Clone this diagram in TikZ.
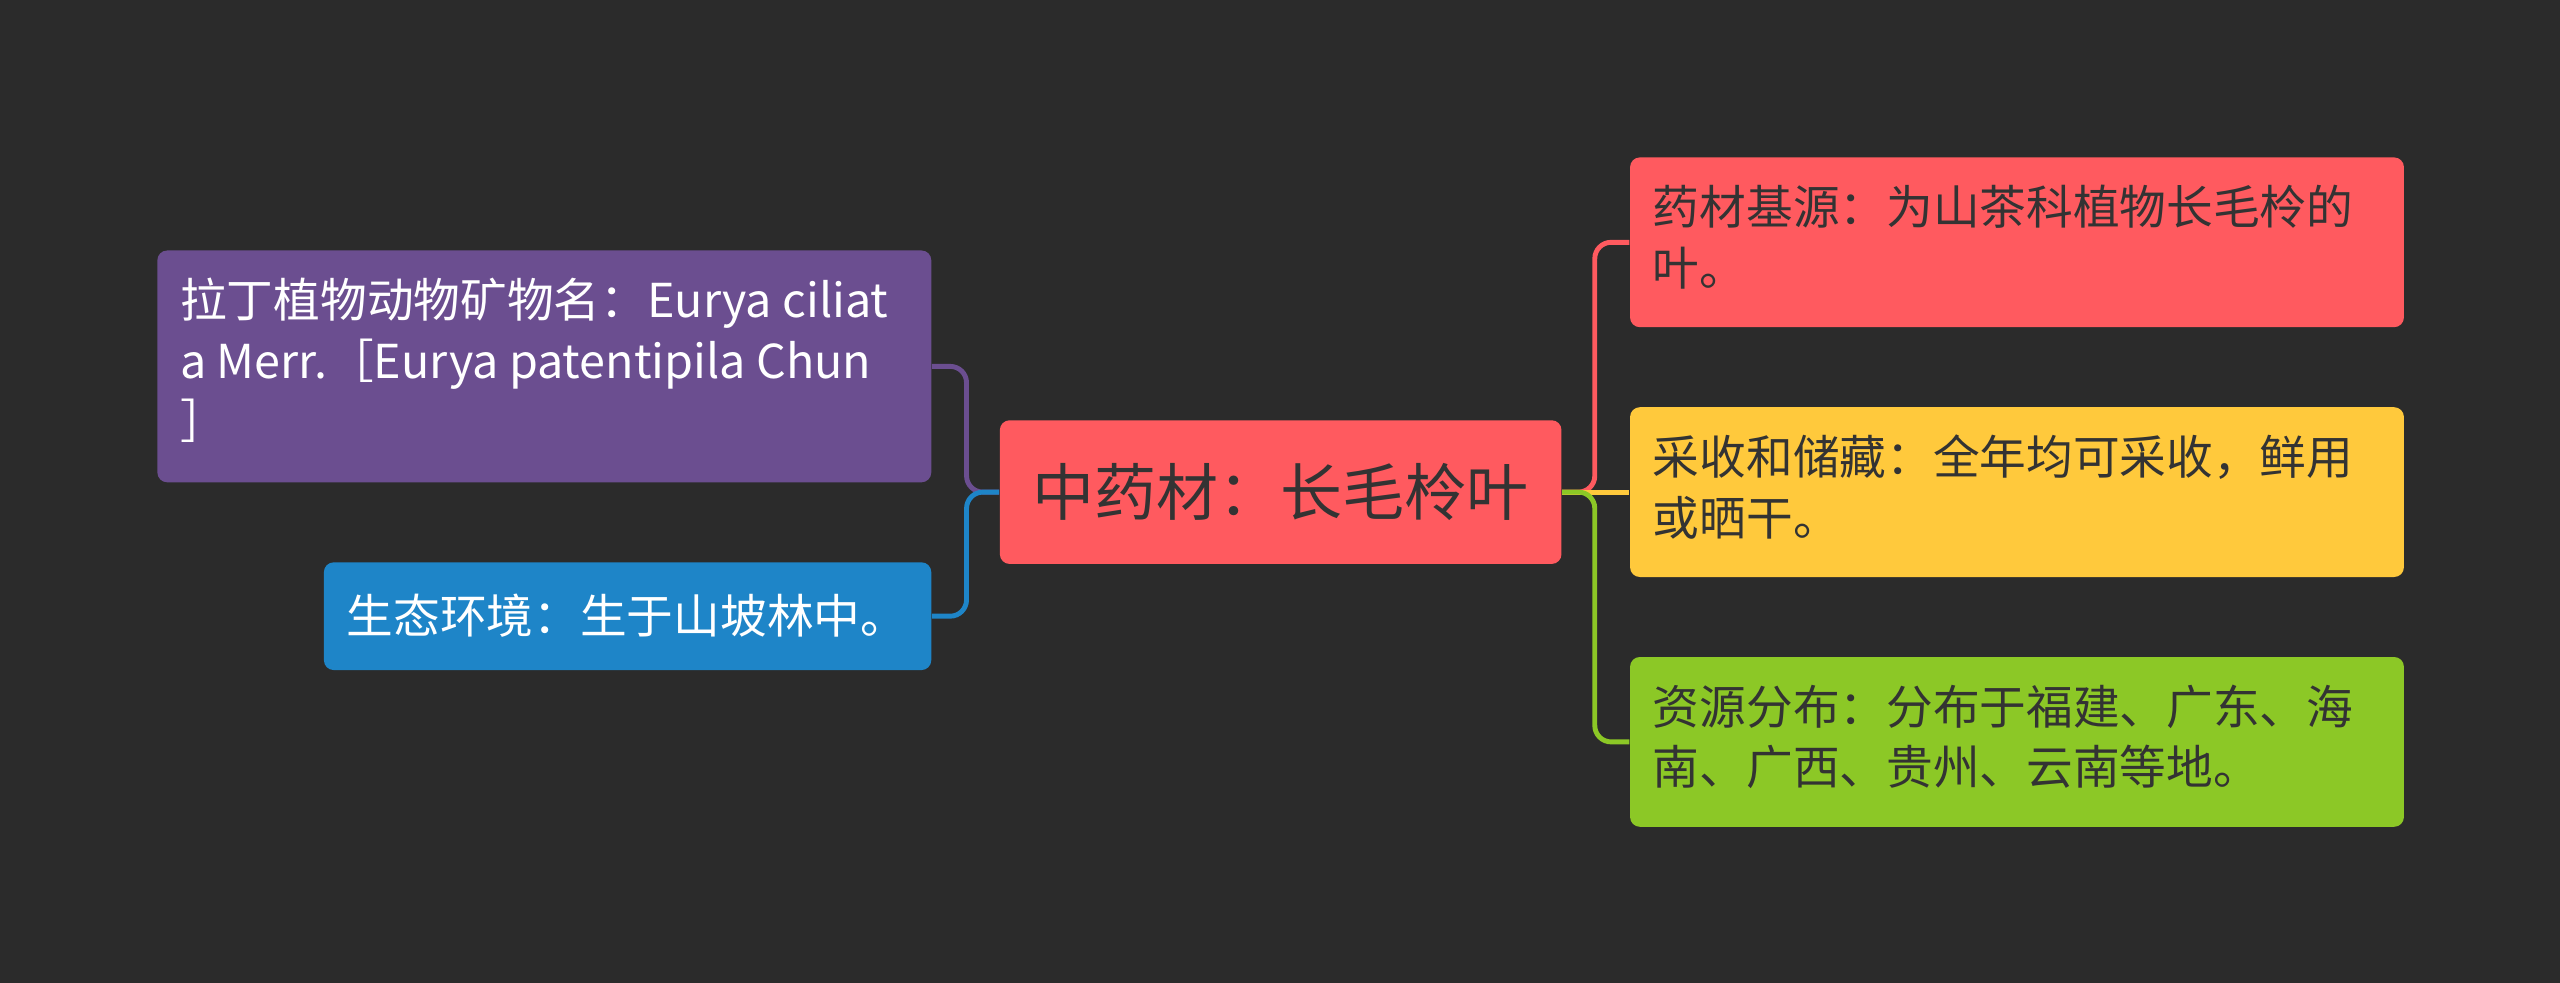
\documentclass[tikz,border=0pt]{standalone}
\usepackage{fontspec}
\setmainfont{Noto Sans CJK SC}
\begin{document}
\begin{tikzpicture}[x=0.5pt,y=-0.5pt]
\definecolor{bg}{HTML}{2B2B2B}
\definecolor{cred}{HTML}{FF5A5F}
\definecolor{cpur}{HTML}{6B4E90}
\definecolor{cblu}{HTML}{1E85C8}
\definecolor{cyel}{HTML}{FFC93C}
\definecolor{cgrn}{HTML}{8CC826}
\definecolor{dtxt}{HTML}{333333}
\tikzset{
 box/.style={rounded corners=3pt,inner sep=0pt,anchor=north west},
 txt/.style={font=\fontsize{14.3}{18.5}\selectfont,align=left,anchor=north west,inner sep=0pt},
 link/.style={line width=1.5pt,rounded corners=5pt}
}
\fill[bg] (0,0) rectangle (1568,602);
\useasboundingbox (0,0) rectangle (1568,602);
% boxes
\node[box,fill=cred,minimum width=172pt,minimum height=44pt] (c) at (612,257) {};
\node[anchor=center,font=\fontsize{19}{22}\selectfont,text=dtxt] at (c.center) {中药材：长毛柃叶};
\node[box,fill=cpur,minimum width=237pt,minimum height=71pt] (p) at (96,153) {};
\node[txt,text=white] at (110,170) {拉丁植物动物矿物名：Eurya ciliat\\a Merr.［Eurya patentipila Chun\\］};
\node[box,fill=cblu,minimum width=186pt,minimum height=33pt] (b) at (198,344) {};
\node[txt,text=white,anchor=west] at (212,377) {生态环境：生于山坡林中。};
\node[box,fill=cred,minimum width=237pt,minimum height=52pt] (r1) at (998,96) {};
\node[txt,text=dtxt] at (1012,113) {药材基源：为山茶科植物长毛柃的\\叶。};
\node[box,fill=cyel,minimum width=237pt,minimum height=52pt] (r2) at (998,249) {};
\node[txt,text=dtxt] at (1012,266) {采收和储藏：全年均可采收，鲜用\\或晒干。};
\node[box,fill=cgrn,minimum width=237pt,minimum height=52pt] (r3) at (998,402) {};
\node[txt,text=dtxt] at (1012,419) {资源分布：分布于福建、广东、海\\南、广西、贵州、云南等地。};
% links
\draw[link,cpur] (c.west) -- ++(-20,0) |- (p.east);
\draw[link,cblu] (c.west) -- ++(-20,0) |- (b.east);
\draw[link,cred] (c.east) -- ++(20,0) |- (r1.west);
\draw[link,cyel] (c.east) -- (r2.west);
\draw[link,cgrn] (c.east) -- ++(20,0) |- (r3.west);
\end{tikzpicture}
\end{document}
